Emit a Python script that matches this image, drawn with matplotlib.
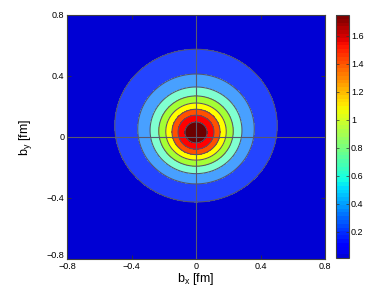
import numpy as np
import matplotlib
matplotlib.use("Agg")
import matplotlib.pyplot as plt
from matplotlib.colors import ListedColormap, Normalize
from matplotlib.ticker import FuncFormatter
from matplotlib.transforms import ScaledTranslation

# impact-parameter density
peak_density = 1.74      # value at the centre
width_fm = 0.28          # profile width a
power = 1.51             # profile exponent n
shift_fm = 0.015         # upward shift of the centre
asym = 0.55              # b_y asymmetry factor

contour_levels = [0.2, 0.4, 0.6, 0.8, 1.0, 1.2, 1.4, 1.6]
band_colors = ['#0000d4', '#2444ff', '#48a0ff', '#80ffd0', '#a4ff34',
               '#ffff00', '#ff5000', '#ff0000', '#6c0000']
axis_ticks = [-0.8, -0.4, 0, 0.4, 0.8]
cbar_ticks = [0.2, 0.4, 0.6, 0.8, 1.0, 1.2, 1.4, 1.6]

plt.rcParams['font.family'] = ['Liberation Sans', 'DejaVu Sans']
plt.rcParams['mathtext.default'] = 'regular'

b = np.linspace(-0.8, 0.8, 401)
bx, by = np.meshgrid(b, b)
u = by - shift_fm
rho = peak_density * (1 + (bx**2 + u**2) / width_fm**2) ** (-power) * (1 + asym * u)

fmt = FuncFormatter(lambda v, p: ('%g' % round(v, 3)).replace('-', '\u2212'))

fig = plt.figure(figsize=(3.82, 3.0), dpi=100)
ax = fig.add_axes([0.1754, 0.1367, 0.6754, 0.8133])

levels = [0.0] + contour_levels + [2.0]
ax.contourf(bx, by, rho, levels=levels, colors=band_colors)
ax.contour(bx, by, rho, levels=contour_levels, colors='#55556a', linewidths=0.75)
ax.axhline(0, color='#5a5a6e', lw=0.8)
ax.axvline(0, color='#5a5a6e', lw=0.8)

ax.set_xlim(-0.8, 0.8)
ax.set_ylim(-0.8, 0.8)
ax.set_xticks(axis_ticks)
ax.set_yticks(axis_ticks)
ax.xaxis.set_major_formatter(fmt)
ax.yaxis.set_major_formatter(fmt)
ax.tick_params(direction='in', length=3, width=0.6, color='#333333',
               labelsize=6.5, pad=2, top=True, right=True)
for s in ax.spines.values():
    s.set_color('#404040')
    s.set_linewidth(0.8)
ax.set_xlabel('b$_x$ [fm]', fontsize=9, labelpad=0)
ax.set_ylabel('b$_y$ [fm]', fontsize=9, labelpad=9)

# lift the lowest y label a little so it clears the x label below it
fig.canvas.draw()
lab = ax.get_yticklabels()[0]
lab.set_transform(lab.get_transform() + ScaledTranslation(0, 3 / 72, fig.dpi_scale_trans))

# colourbar: jet-like map over the data range
jet = plt.get_cmap('jet')
cmap = ListedColormap(jet(np.linspace(0.08, 1.0, 64)))
norm = Normalize(vmin=rho.min(), vmax=rho.max())
cax = fig.add_axes([0.8796, 0.14, 0.034, 0.81])
cb = fig.colorbar(plt.cm.ScalarMappable(norm=norm, cmap=cmap), cax=cax)
cb.set_ticks(cbar_ticks)
cb.ax.yaxis.set_major_formatter(fmt)
cb.ax.tick_params(direction='in', length=2, width=0.5, color='#333333',
                  labelsize=6.5, pad=1.5, left=True, right=True)
cb.outline.set_edgecolor('#404040')
cb.outline.set_linewidth(0.8)

fig.savefig('out.png', dpi=100)
